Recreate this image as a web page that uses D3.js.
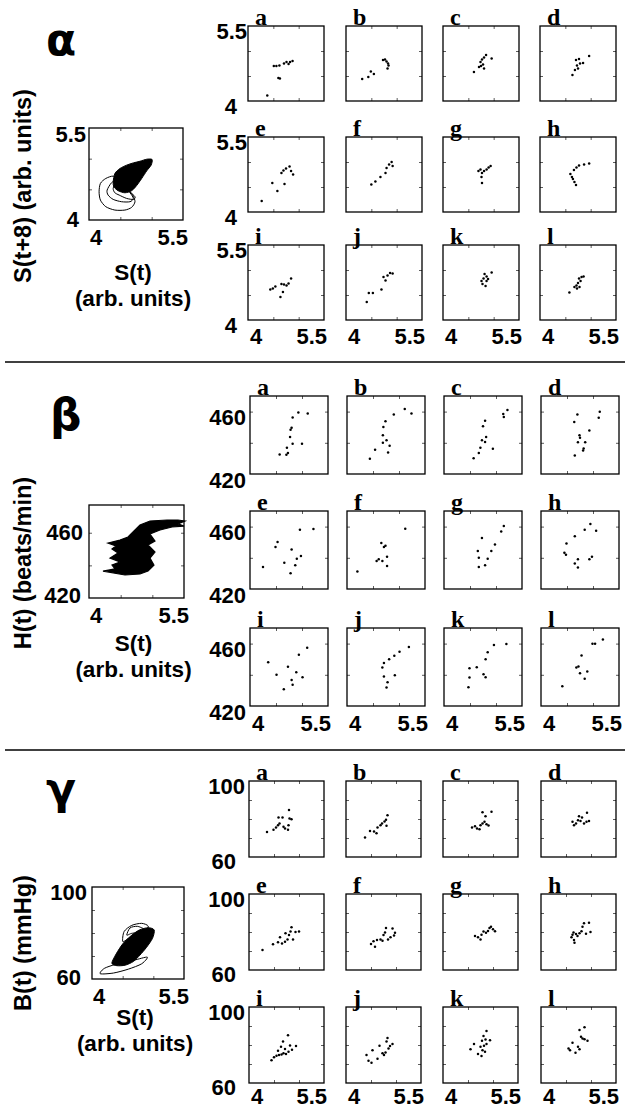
<!DOCTYPE html>
<html><head><meta charset="utf-8">
<script src="https://cdn.jsdelivr.net/npm/d3@7"></script>
<style>body{margin:0;background:#fff} svg{display:block}</style>
</head><body>
<svg id="c" width="625" height="1110"></svg>
<script>
// ---------------- DATA ----------------
const panelLetters = ["a","b","c","d","e","f","g","h","i","j","k","l"];
const xTickLabels = [4, 5.5];
const alphaYTickLabels = [4, 5.5];
const betaYTickLabels = [420, 460];
const gammaYTickLabels = [60, 100];
const xLabel = ["S(t)", "(arb. units)"];
const alphaYLabel = "S(t+8) (arb. units)";
const betaYLabel = "H(t) (beats/min)";
const gammaYLabel = "B(t) (mmHg)";

const alphaDots = [
 [[4.51,4.70],[4.56,4.70],[4.62,4.71],[4.71,4.75],[4.76,4.78],[4.80,4.74],[4.83,4.78],[4.88,4.80],[4.60,4.46],[4.63,4.45],[4.38,4.11]],
 [[4.32,4.44],[4.44,4.48],[4.49,4.59],[4.55,4.54],[4.73,4.82],[4.77,4.83],[4.80,4.79],[4.83,4.75],[4.84,4.71],[4.82,4.65]],
 [[4.61,4.58],[4.71,4.68],[4.74,4.78],[4.77,4.83],[4.81,4.87],[4.85,4.92],[4.96,4.85],[4.79,4.73],[4.81,4.65],[4.75,4.70]],
 [[4.64,4.52],[4.69,4.62],[4.73,4.71],[4.71,4.82],[4.77,4.84],[4.79,4.75],[4.85,4.76],[4.97,4.90],[4.75,4.65]],
 [[4.48,4.58],[4.58,4.42],[4.72,4.56],[4.66,4.78],[4.70,4.83],[4.75,4.87],[4.82,4.91],[4.85,4.82],[4.89,4.75],[4.27,4.22]],
 [[4.50,4.55],[4.58,4.61],[4.68,4.70],[4.78,4.78],[4.80,4.88],[4.85,4.95],[4.90,5.00],[4.92,4.92]],
 [[4.70,4.82],[4.74,4.85],[4.77,4.78],[4.81,4.82],[4.86,4.85],[4.90,4.89],[4.94,4.92],[4.76,4.70],[4.77,4.58]],
 [[4.60,4.76],[4.63,4.70],[4.65,4.66],[4.68,4.60],[4.71,4.54],[4.67,4.84],[4.72,4.89],[4.77,4.93],[4.87,4.95],[4.97,4.97]],
 [[4.44,4.61],[4.49,4.63],[4.54,4.67],[4.66,4.72],[4.71,4.71],[4.76,4.69],[4.80,4.73],[4.85,4.83],[4.69,4.56],[4.64,4.46]],
 [[4.41,4.36],[4.45,4.54],[4.53,4.54],[4.70,4.61],[4.74,4.86],[4.78,4.79],[4.82,4.89],[4.87,4.94],[4.92,4.93]],
 [[4.76,4.78],[4.80,4.83],[4.82,4.92],[4.86,4.87],[4.89,4.82],[4.96,4.95],[4.78,4.72],[4.84,4.68],[4.86,4.78]],
 [[4.58,4.55],[4.68,4.66],[4.72,4.69],[4.75,4.74],[4.77,4.83],[4.82,4.86],[4.86,4.87],[4.73,4.63],[4.78,4.66],[4.80,4.78]]
];

const betaDots = [
 [[4.57,432.5],[4.70,432.3],[4.73,433.4],[4.71,436.8],[4.82,439.4],[4.77,443.7],[4.78,448.4],[4.80,449.7],[4.82,456.2],[4.93,459.4],[5.11,458.8],[5.00,439.4]],
 [[4.44,429.7],[4.54,435.5],[4.69,440.0],[4.69,444.8],[4.70,450.2],[4.74,453.8],[4.90,458.1],[5.11,461.6],[5.24,458.8],[4.76,441.6],[4.82,438.1],[4.79,433.8]],
 [[4.57,430.1],[4.67,433.4],[4.70,436.8],[4.73,441.6],[4.79,440.5],[4.81,443.7],[4.75,450.6],[4.79,454.1],[4.94,436.2],[5.14,458.4],[5.15,456.6],[5.22,461.0]],
 [[4.65,431.8],[4.81,435.0],[4.82,436.3],[4.85,440.4],[4.71,440.4],[4.75,443.2],[4.74,444.9],[4.93,447.9],[4.64,453.3],[4.70,458.2],[5.13,459.9],[5.11,456.1]],
 [[4.96,458.0],[5.22,458.4],[4.25,434.1],[4.49,447.0],[4.53,450.2],[4.66,436.9],[4.78,430.1],[4.80,445.3],[4.87,435.2],[4.90,439.4],[4.98,441.1]],
 [[5.12,458.6],[4.20,431.2],[4.57,437.9],[4.61,439.0],[4.68,437.9],[4.66,449.5],[4.71,447.0],[4.74,447.8],[4.77,440.7],[4.77,434.8]],
 [[5.10,456.9],[5.15,460.4],[4.73,452.7],[4.65,444.3],[4.67,440.0],[4.67,434.1],[4.79,435.2],[4.84,439.4],[4.91,444.3],[4.98,448.5]],
 [[4.65,453.8],[4.84,458.0],[4.95,461.6],[5.06,457.4],[4.49,449.2],[4.45,443.2],[4.48,441.9],[4.65,436.3],[4.71,439.0],[4.71,433.8],[4.93,439.0],[4.98,440.7]],
 [[4.35,448.1],[4.51,440.0],[4.73,445.1],[4.65,430.7],[4.80,436.7],[4.82,433.7],[4.89,441.7],[4.94,452.8],[5.01,438.5],[5.10,457.3]],
 [[4.68,444.7],[4.71,447.5],[4.81,450.0],[4.91,452.2],[5.01,454.8],[5.19,457.8],[4.71,438.9],[4.92,439.7],[4.78,435.2],[4.76,431.8]],
 [[4.47,432.0],[4.49,438.2],[4.49,444.2],[4.63,444.9],[4.76,440.4],[4.80,438.5],[4.80,450.0],[4.84,454.5],[4.96,459.1],[5.20,459.7]],
 [[4.41,432.7],[4.68,444.7],[4.72,445.3],[4.75,441.0],[4.78,452.4],[4.84,437.4],[4.89,442.1],[4.99,459.9],[5.04,459.9],[5.19,462.7]]
];

const gammaDots = [
 [[4.36,73.2],[4.49,74.4],[4.54,75.5],[4.58,76.7],[4.61,77.6],[4.59,80.8],[4.67,80.8],[4.69,75.9],[4.72,75.0],[4.78,74.4],[4.79,76.7],[4.81,80.3],[4.85,79.9],[4.80,84.7]],
 [[4.38,70.2],[4.48,73.7],[4.56,73.4],[4.61,72.5],[4.63,75.5],[4.69,76.7],[4.72,77.6],[4.77,78.7],[4.80,79.6],[4.83,82.0],[4.81,76.4]],
 [[4.58,75.5],[4.64,76.2],[4.68,75.0],[4.73,74.6],[4.75,76.7],[4.79,77.6],[4.83,78.5],[4.87,77.3],[4.91,76.6],[4.79,83.6],[4.85,81.5],[4.97,83.8]],
 [[4.63,78.5],[4.66,76.7],[4.70,77.6],[4.74,79.4],[4.76,81.5],[4.82,80.8],[4.86,77.6],[4.91,78.5],[4.96,79.0],[4.92,83.3],[4.79,79.0]],
 [[4.27,70.5],[4.48,73.5],[4.58,74.6],[4.62,77.2],[4.66,74.0],[4.72,74.9],[4.73,79.3],[4.77,76.1],[4.80,78.4],[4.83,80.2],[4.85,82.5],[4.88,76.1],[4.93,80.0],[5.00,80.2]],
 [[4.50,73.7],[4.55,75.1],[4.58,72.3],[4.62,75.8],[4.69,76.1],[4.73,75.4],[4.75,78.4],[4.78,79.8],[4.80,82.1],[4.84,76.1],[4.89,77.2],[4.93,81.9],[4.96,78.2],[4.98,79.6]],
 [[4.64,77.9],[4.70,77.2],[4.75,76.1],[4.77,78.6],[4.81,80.2],[4.86,79.6],[4.90,80.5],[4.93,82.1],[4.96,82.8],[5.00,81.4],[5.04,80.4]],
 [[4.61,77.2],[4.63,78.6],[4.66,75.8],[4.67,74.4],[4.65,79.8],[4.70,78.9],[4.73,77.9],[4.77,79.3],[4.81,80.4],[4.83,82.8],[4.86,84.6],[4.96,84.9],[4.90,79.1],[4.99,80.0]],
 [[4.45,72.0],[4.50,73.5],[4.55,74.3],[4.60,74.7],[4.65,75.0],[4.69,75.6],[4.74,75.2],[4.79,76.5],[4.86,77.5],[4.94,79.5],[4.64,79.1],[4.58,77.0],[4.68,81.8],[4.78,85.1],[4.72,77.9],[4.82,79.8]],
 [[4.41,74.7],[4.45,71.7],[4.51,70.6],[4.53,77.3],[4.63,72.7],[4.67,79.6],[4.73,75.6],[4.76,74.7],[4.79,76.1],[4.83,83.7],[4.81,81.8],[4.85,78.1],[4.88,79.5],[4.93,80.5]],
 [[4.55,77.7],[4.62,80.5],[4.70,75.2],[4.77,74.2],[4.79,77.3],[4.75,79.1],[4.78,82.3],[4.82,79.6],[4.87,80.5],[4.85,82.9],[4.87,87.4],[4.94,82.5],[4.81,84.8],[4.84,76.5]],
 [[4.55,78.2],[4.58,77.3],[4.63,81.2],[4.69,75.9],[4.74,79.1],[4.77,77.7],[4.80,84.4],[4.83,83.4],[4.87,83.0],[4.93,82.3],[4.77,87.9],[4.87,89.4]]
];

// Summary phase plots (outlines)
const alphaBlob = [[4.386,4.623],[4.413,4.758],[4.493,4.839],[4.600,4.894],[4.707,4.931],[4.814,4.958],[4.921,4.991],[5.007,4.986],[4.991,4.894],[4.921,4.801],[4.841,4.677],[4.761,4.563],[4.680,4.477],[4.573,4.444],[4.466,4.477],[4.396,4.542]];
const alphaLoops = [
 [[4.161,4.460],[4.182,4.596],[4.268,4.677],[4.386,4.715],[4.493,4.650],[4.600,4.514],[4.696,4.406],[4.734,4.298],[4.680,4.206],[4.573,4.162],[4.413,4.162],[4.268,4.217],[4.182,4.325]],
 [[4.289,4.487],[4.359,4.607],[4.450,4.650],[4.546,4.569],[4.654,4.444],[4.707,4.352],[4.654,4.298],[4.520,4.298],[4.386,4.336],[4.305,4.406]],
 [[4.386,4.514],[4.429,4.607],[4.520,4.596],[4.627,4.487],[4.734,4.379],[4.707,4.336],[4.600,4.352],[4.482,4.406],[4.413,4.444]]
];
const betaBlob = [[4.695,460.5],[4.805,464.7],[4.963,467.2],[5.232,467.8],[5.405,467.8],[5.516,467.2],[5.405,465.4],[5.500,464.1],[5.311,463.5],[5.121,461.7],[4.963,459.2],[5.042,454.9],[4.932,452.5],[5.042,448.2],[4.963,444.5],[5.026,440.2],[4.932,436.5],[4.805,434.7],[4.568,434.1],[4.221,436.5],[4.411,437.8],[4.363,440.2],[4.489,442.1],[4.332,444.5],[4.458,447.6],[4.363,450.0],[4.426,451.9],[4.300,453.7],[4.489,455.5],[4.616,457.4]];
const gammaBlob = [[4.324,66.9],[4.394,70.9],[4.502,75.3],[4.637,78.8],[4.771,81.3],[4.917,82.3],[5.014,81.3],[4.987,77.7],[4.890,73.8],[4.782,70.4],[4.674,67.6],[4.540,66.0],[4.405,65.8]];
const gammaLoops = [
 [[4.135,62.3],[4.200,64.6],[4.378,66.3],[4.674,68.1],[4.901,69.5],[4.809,66.6],[4.594,64.3],[4.351,62.6]],
 [[4.502,76.3],[4.523,80.6],[4.647,83.3],[4.809,84.2],[4.917,83.0],[4.863,80.6],[4.728,79.6],[4.594,77.6]],
 [[4.567,79.1],[4.620,82.2],[4.739,82.9],[4.847,81.6],[4.75,80.3],[4.64,79.8]]
];

// ---------------- LAYOUT ----------------
const svg = d3.select('#c');
const SANS = "'Liberation Sans', Arial, Helvetica, sans-serif";
const SERIF = "'Liberation Serif', 'Times New Roman', serif";

const sections = [
 { greek:"α", gx:46, gy:55, yLabel:alphaYLabel, yLabelY:186,
   yTicks:alphaYTickLabels, yDomainSmall:[4,5.5], yDomainBig:[4,5.5], yMinor:[4.5,5],
   dots:alphaDots, cols:[248,346,443,540], w:76, rows:[26,137,245], h:75,
   big:{x:89,y:128,w:94,h:92}, bigDy:[7,14], bigDx:[-10,-3], smallDx:[-11,-1], smallDy:[13,13],
   xLabY:[280,306], bottomDy:24 },
 { greek:"β", gx:50, gy:430, yLabel:betaYLabel, yLabelY:563,
   yTicks:betaYTickLabels, yDomainSmall:[420,470], yDomainBig:[420,477], yMinor:[440,460],
   dots:betaDots, cols:[250,347,444,541], w:78, rows:[396,511,628], h:78,
   big:{x:89,y:505,w:95,h:93}, bigDy:[5,7], bigDx:[-8,-6], smallDx:[-4,-4], smallDy:[14,13],
   xLabY:[651,677], bottomDy:25 },
 { greek:"γ", gx:46, gy:804, yLabel:gammaYLabel, yLabelY:943,
   yTicks:gammaYTickLabels, yDomainSmall:[60,100], yDomainBig:[60,100], yMinor:[70,80,90],
   dots:gammaDots, cols:[249,346,443,541], w:75, rows:[781,894,1007], h:76,
   big:{x:92,y:887,w:92,h:92}, bigDy:[6,13], bigDx:[-11,-5], smallDx:[-13,-4], smallDy:[12,13],
   xLabY:[1025,1051], bottomDy:21 }
];
const xMinor = [4.5, 5];

function frame(g, xs, ys, yMinor) {
  const [x0,x1] = xs.range(); const [y1,y0] = ys.range();
  const tk = 3;
  g.append('g').attr('transform',`translate(0,${y1})`).call(d3.axisBottom(xs).tickValues(xMinor).tickSize(-tk).tickFormat(''));
  g.append('g').attr('transform',`translate(0,${y0})`).call(d3.axisTop(xs).tickValues(xMinor).tickSize(-tk).tickFormat(''));
  g.append('g').attr('transform',`translate(${x0},0)`).call(d3.axisLeft(ys).tickValues(yMinor).tickSize(-tk).tickFormat(''));
  g.append('g').attr('transform',`translate(${x1},0)`).call(d3.axisRight(ys).tickValues(yMinor).tickSize(-tk).tickFormat(''));
  g.selectAll('.domain').remove();
  g.selectAll('.tick line').attr('stroke','#333').attr('stroke-width',0.8);
  g.append('rect').attr('x',x0).attr('y',y0).attr('width',x1-x0).attr('height',y1-y0)
    .attr('fill','none').attr('stroke','#000').attr('stroke-width',1.3);
}

function tickText(g, x, y, txt, anchor, size) {
  g.append('text').attr('x',x).attr('y',y).attr('text-anchor',anchor)
   .attr('font-family',SANS).attr('font-weight','bold').attr('font-size',size||22).attr('fill','#000').text(txt);
}

sections.forEach(sec => {
  const g = svg.append('g');
  g.append('text').attr('x',sec.gx).attr('y',sec.gy).attr('font-family',"'DejaVu Sans', sans-serif")
    .attr('font-weight','bold').attr('font-size',44).attr('fill','#000').text(sec.greek);
  g.append('text').attr('transform',`translate(23,${sec.yLabelY}) rotate(-90)`)
    .attr('text-anchor','middle').attr('dominant-baseline','central')
    .attr('font-family',SANS).attr('font-weight','bold').attr('font-size',23.5).text(sec.yLabel);

  const B = sec.big;
  const bx = d3.scaleLinear().domain([4,5.5]).range([B.x, B.x+B.w]);
  const by = d3.scaleLinear().domain(sec.yDomainBig).range([B.y+B.h, B.y]);
  const bg = g.append('g');
  frame(bg, bx, by, sec.yMinor);
  const lineC = d3.line().x(d=>bx(d[0])).y(d=>by(d[1])).curve(d3.curveCardinalClosed.tension(0.2));
  const lineL = d3.line().x(d=>bx(d[0])).y(d=>by(d[1])).curve(d3.curveLinearClosed);
  if (sec.greek === "α") {
    alphaLoops.forEach(l => bg.append('path').attr('d',lineC(l)).attr('fill','none').attr('stroke','#000').attr('stroke-width',1));
    bg.append('path').attr('d',lineC(alphaBlob)).attr('fill','#000').attr('stroke','#000').attr('stroke-width',1);
  } else if (sec.greek === "β") {
    bg.append('path').attr('d',lineL(betaBlob)).attr('fill','#000').attr('stroke','#000').attr('stroke-width',1.2).attr('stroke-linejoin','miter');
  } else {
    gammaLoops.forEach(l => bg.append('path').attr('d',lineC(l)).attr('fill','none').attr('stroke','#000').attr('stroke-width',1));
    bg.append('path').attr('d',lineC(gammaBlob)).attr('fill','#000').attr('stroke','#000').attr('stroke-width',1);
  }
  tickText(g, B.x + sec.bigDx[0], by(sec.yTicks[0]) + sec.bigDy[0], sec.yTicks[0], 'end');
  tickText(g, B.x + sec.bigDx[1], by(sec.yTicks[1]) + sec.bigDy[1], sec.yTicks[1], 'end');
  tickText(g, bx(xTickLabels[0]) + 1, B.y + B.h + 25, xTickLabels[0], 'start');
  tickText(g, bx(xTickLabels[1]) + 5, B.y + B.h + 25, xTickLabels[1], 'end');
  const cx = B.x + B.w/2 - 3;
  tickText(g, cx, sec.xLabY[0], xLabel[0], 'middle', 22.5);
  tickText(g, cx, sec.xLabY[1], xLabel[1], 'middle', 22.5);

  sec.dots.forEach((pts, i) => {
    const r = Math.floor(i/4), c = i%4;
    const x0 = sec.cols[c], y0 = sec.rows[r];
    const xs = d3.scaleLinear().domain([4,5.5]).range([x0, x0+sec.w]);
    const ys = d3.scaleLinear().domain(sec.yDomainSmall).range([y0+sec.h, y0]);
    const pg = g.append('g');
    frame(pg, xs, ys, sec.yMinor);
    pg.selectAll('circle').data(pts).join('circle')
      .attr('cx',d=>xs(d[0])).attr('cy',d=>ys(d[1])).attr('r',1.25).attr('fill','#000');
    pg.append('text').attr('x',x0+7).attr('y',y0-1).attr('font-family',SERIF).attr('font-weight','bold')
      .attr('font-size',24).text(panelLetters[i]);
    if (c === 0) {
      tickText(pg, x0 + sec.smallDx[0], ys(sec.yTicks[0]) + sec.smallDy[0], sec.yTicks[0], 'end');
      tickText(pg, x0 + sec.smallDx[1], ys(sec.yTicks[1]) + sec.smallDy[1], sec.yTicks[1], 'end');
    }
    if (r === 2) {
      tickText(pg, xs(xTickLabels[0]) + 2, y0 + sec.h + sec.bottomDy, xTickLabels[0], 'start');
      tickText(pg, xs(xTickLabels[1]) + 3, y0 + sec.h + sec.bottomDy, xTickLabels[1], 'end');
    }
  });
});

[362, 750].forEach(y => svg.append('line').attr('x1',5).attr('x2',625).attr('y1',y).attr('y2',y)
  .attr('stroke','#000').attr('stroke-width',1.5));
</script>
</body></html>
